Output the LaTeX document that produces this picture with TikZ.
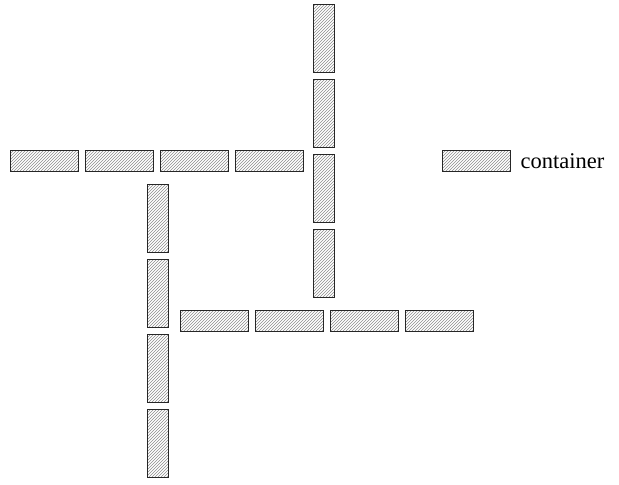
\documentclass[tikz,border=0pt]{standalone}
\usepackage{fontspec}
\setmainfont{Liberation Serif}
\usetikzlibrary{patterns,positioning}

\tikzset{
  hbox/.style={draw=black!85,line width=0.9pt,pattern=north east lines,pattern color=black!45,
    minimum width=68pt,minimum height=21pt,inner sep=0pt},
  vbox/.style={hbox,minimum width=21pt,minimum height=68pt}
}

\begin{document}
\begin{tikzpicture}[x=1pt,y=-1pt]
\useasboundingbox (0,0) rectangle (619,485);
% upper row and right column
\foreach \i/\x in {1/44,2/119,3/194,4/269}
  \node[hbox] (top\i) at (\x,161) {};
\foreach \i/\y in {1/38,2/113,3/188,4/263}
  \node[vbox] (right\i) at (324,\y) {};
% left column and lower row
\foreach \i/\y in {1/218,2/293,3/368,4/443}
  \node[vbox] (left\i) at (157.5,\y) {};
\foreach \i/\x in {1/214,2/289,3/364,4/439}
  \node[hbox] (low\i) at (\x,321) {};
% legend
\node[hbox] (key) at (476,161) {};
\node[right=10pt of key,font=\fontsize{22.5}{26}\selectfont,inner sep=0pt] (keytext) {container};
\end{tikzpicture}
\end{document}
